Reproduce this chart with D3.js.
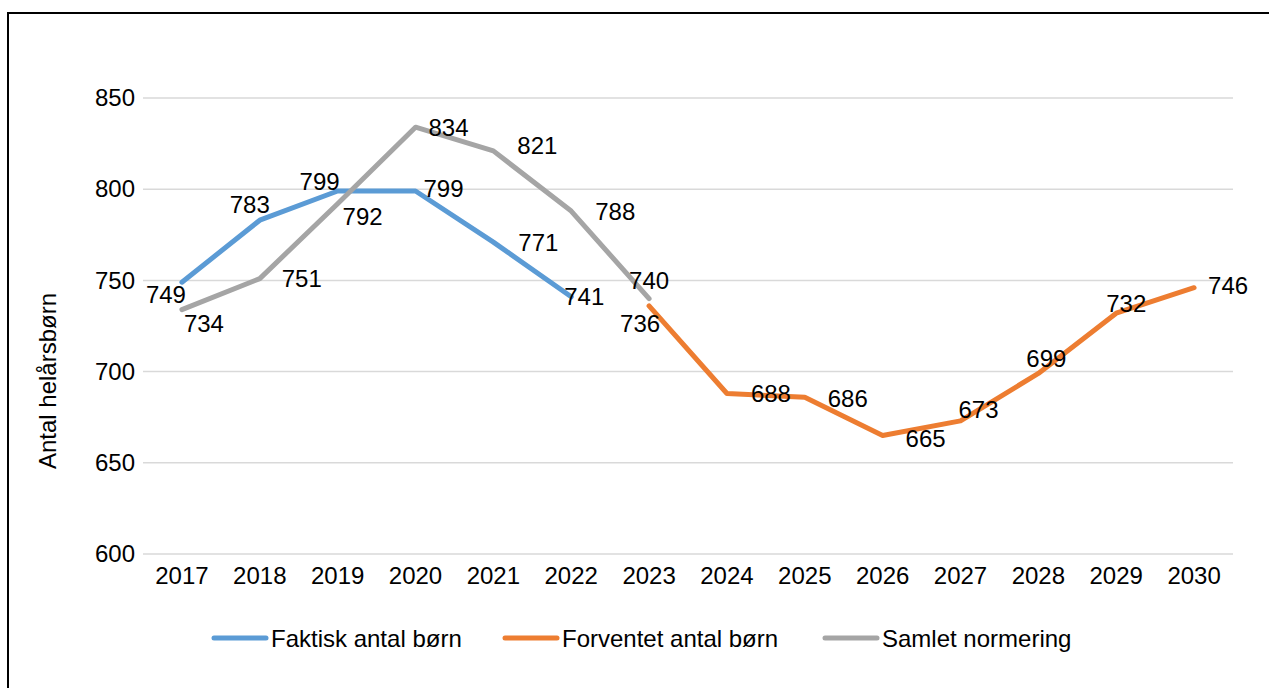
<!DOCTYPE html>
<html>
<head>
<meta charset="utf-8">
<script src="https://cdn.jsdelivr.net/npm/d3@7"></script>
<style>
  body { margin: 0; background: #fff; }
  svg { display: block; font-family: "Liberation Sans", Arial, sans-serif; }
</style>
</head>
<body>
<div id="chart"></div>
<script>
// Data
var years = ["2017","2018","2019","2020","2021","2022","2023","2024","2025","2026","2027","2028","2029","2030"];
var faktisk = [749, 783, 799, 799, 771, 741];                 // 2017-2022
var samlet = [734, 751, 792, 834, 821, 788, 740];             // 2017-2023
var forventet = [736, 688, 686, 665, 673, 699, 732, 746];     // 2023-2030
var yTicks = [600, 650, 700, 750, 800, 850];

// label offsets from each point (label centre), px
var faktiskOff = [[-16,12],[-10,-16],[-18,-10],[28,-3],[45,0],[13,0]];
var samletOff = [[22,14],[42,0],[25,13],[33,0],[44,-6],[44,0],[0,-18]];
var forventetOff = [[-9,17],[44,0],[43,1],[43,3],[18,-11],[8,-15],[10,-10],[34,-2]];

var W = 1269, H = 688;
var margin = {top: 98, left: 143, right: 36, bottom: 134};
var fontSize = "24px";

var svg = d3.select("#chart").append("svg")
    .attr("width", W).attr("height", H);

// frame (only top and left edges visible in the crop)
svg.append("rect")
    .attr("x", 8).attr("y", 13)
    .attr("width", 1400).attr("height", 800)
    .attr("fill", "none").attr("stroke", "#000").attr("stroke-width", 2);

var x = d3.scaleBand()
    .domain(years)
    .range([margin.left, W - margin.right]);

var y = d3.scaleLinear()
    .domain([600, 850])
    .range([H - margin.bottom, margin.top]);

function cx(yr) { return x(yr) + x.bandwidth() / 2; }

// gridlines
svg.append("g")
  .selectAll("line")
  .data(yTicks)
  .enter().append("line")
    .attr("x1", margin.left).attr("x2", W - margin.right)
    .attr("y1", function(d) { return y(d); })
    .attr("y2", function(d) { return y(d); })
    .attr("stroke", "#d9d9d9").attr("stroke-width", 1.5);

// y axis labels
var yAxis = svg.append("g")
    .attr("transform", "translate(" + margin.left + ",0)")
    .call(d3.axisLeft(y).tickValues(yTicks).tickSize(0).tickPadding(8));
yAxis.select(".domain").remove();
yAxis.selectAll("text").style("font-size", fontSize).attr("fill", "#000")
    .attr("font-family", "Liberation Sans, Arial, sans-serif");

// x axis labels
var xAxis = svg.append("g")
    .attr("transform", "translate(0," + (H - margin.bottom) + ")")
    .call(d3.axisBottom(x).tickSize(0).tickPadding(13));
xAxis.select(".domain").remove();
xAxis.selectAll("text").style("font-size", fontSize).attr("fill", "#000")
    .attr("font-family", "Liberation Sans, Arial, sans-serif");

// axis title
svg.append("text")
    .attr("transform", "translate(56,381) rotate(-90)")
    .attr("text-anchor", "middle")
    .style("font-size", fontSize)
    .text("Antal helårsbørn");

var series = [
  {name: "Faktisk antal børn", color: "#5b9bd5", yrs: years.slice(0, 6), vals: faktisk, off: faktiskOff},
  {name: "Samlet normering", color: "#a5a5a5", yrs: years.slice(0, 7), vals: samlet, off: samletOff},
  {name: "Forventet antal børn", color: "#ed7d31", yrs: years.slice(6), vals: forventet, off: forventetOff}
];

var line = d3.line()
    .x(function(d) { return cx(d.yr); })
    .y(function(d) { return y(d.v); });

series.forEach(function(s) {
  var pts = s.vals.map(function(v, i) { return {yr: s.yrs[i], v: v, off: s.off[i]}; });
  svg.append("path")
      .datum(pts)
      .attr("d", line)
      .attr("fill", "none")
      .attr("stroke", s.color)
      .attr("stroke-width", 5)
      .attr("stroke-linejoin", "round")
      .attr("stroke-linecap", "round");
  s.pts = pts;
});

// data labels on top
series.forEach(function(s) {
  svg.append("g")
    .selectAll("text")
    .data(s.pts)
    .enter().append("text")
      .attr("x", function(d) { return cx(d.yr) + d.off[0]; })
      .attr("y", function(d) { return y(d.v) + d.off[1]; })
      .attr("text-anchor", "middle")
      .attr("dy", "0.36em")
      .style("font-size", fontSize)
      .text(function(d) { return d.v; });
});

// legend
var legendItems = [
  {name: "Faktisk antal børn", color: "#5b9bd5", x: 212},
  {name: "Forventet antal børn", color: "#ed7d31", x: 503},
  {name: "Samlet normering", color: "#a5a5a5", x: 823}
];
var lg = svg.append("g").selectAll("g")
    .data(legendItems)
    .enter().append("g")
      .attr("transform", function(d) { return "translate(" + d.x + ",638)"; });
lg.append("line")
    .attr("x1", 2).attr("x2", 54)
    .attr("stroke", function(d) { return d.color; })
    .attr("stroke-width", 5)
    .attr("stroke-linecap", "round");
lg.append("text")
    .attr("x", 59)
    .attr("dy", "0.36em")
    .style("font-size", fontSize)
    .text(function(d) { return d.name; });
</script>
</body>
</html>
